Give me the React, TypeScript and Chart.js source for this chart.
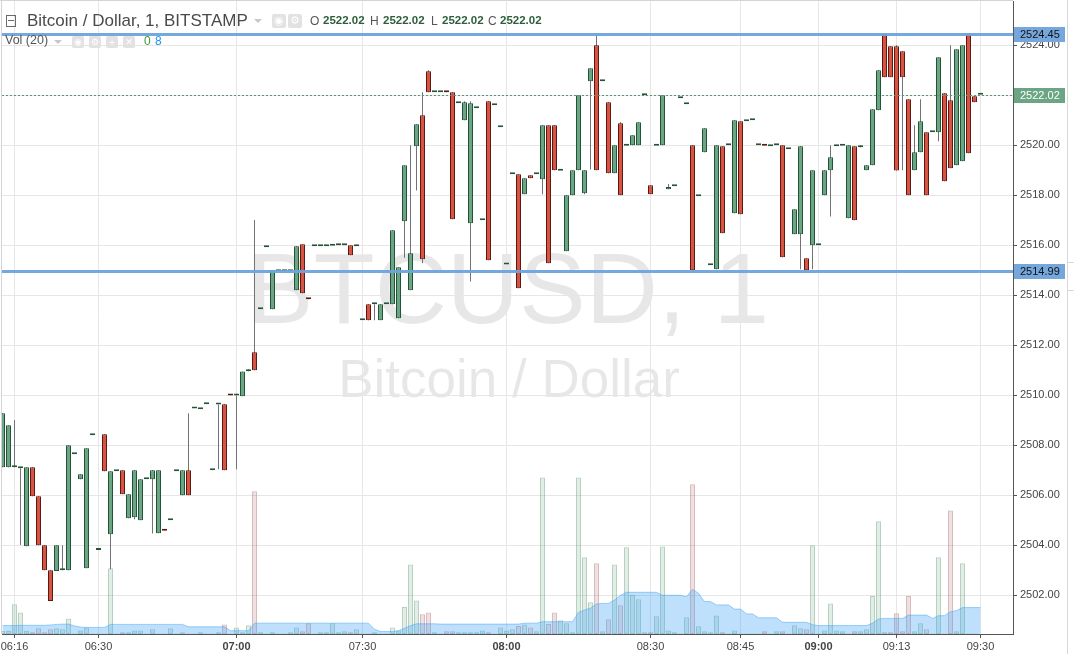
import React, { useEffect, useRef } from "react";
import { Chart, registerables } from "chart.js";

Chart.register(...registerables);

// index of the first bar in the arrays (bar 0 = 06:16)
const FIRST_BAR = -2;

const opens = [
  2507.12, 2507.12, 2507.12, 2507.08, 2503.96, 2507.12, 2505.96, 2504.0, 2503.0, 2502.97,
  2503.0, 2503.0, 2507.64, 2506.64, 2503.08, 2508.4, 2503.81, 2508.44, 2504.44, 2506.96,
  2507.0, 2505.08, 2505.12, 2505.0, 2506.64, 2506.64, 2504.48, 2504.59, 2505.0, 2506.96,
  2506.0, 2507.0, 2509.47, 2509.44, 2509.64, 2507.0, 2509.63, 2509.64, 2510.0, 2509.99,
  2509.96, 2510.96, 2511.72, 2513.44, 2515.92, 2513.44, 2514.96, 2514.96, 2514.96, 2514.2,
  2516.04, 2513.85, 2515.96, 2515.96, 2515.96, 2515.98, 2516.0, 2516.0, 2516.0, 2515.96,
  2513.0, 2513.64, 2513.64, 2513.0, 2513.64, 2513.64, 2513.08, 2516.96, 2514.2, 2519.96,
  2521.2, 2522.96, 2522.12, 2522.12, 2522.13, 2522.12, 2521.68, 2521.0, 2516.88, 2521.48,
  2517.0, 2521.76, 2521.6, 2520.72, 2515.23, 2518.84, 2518.84, 2518.04, 2518.8, 2518.84,
  2518.64, 2520.8, 2520.8, 2518.98, 2515.76, 2518.0, 2519.0, 2518.08, 2522.56, 2524.0,
  2522.56, 2521.72, 2518.88, 2520.88, 2519.98, 2520.0, 2520.0, 2522.0, 2518.4, 2519.98,
  2520.0, 2518.24, 2518.36, 2521.88, 2521.64, 2520.0, 2517.96, 2519.72, 2515.2, 2515.04,
  2519.96, 2520.0, 2517.28, 2520.96, 2520.96, 2521.0, 2520.0, 2519.99, 2519.96, 2520.0,
  2520.0, 2519.84, 2516.44, 2516.44, 2515.48, 2516.0, 2516.0, 2518.0, 2519.0, 2519.96,
  2519.98, 2517.08, 2519.96, 2519.92, 2519.0, 2519.2, 2521.4, 2524.44, 2523.96, 2523.96,
  2523.76, 2521.84, 2519.0, 2519.72, 2520.52, 2520.52, 2520.52, 2522.08, 2521.8, 2519.2,
  2519.36, 2524.44, 2521.96, 2522.02,
];

const highs = [
  2509.28, 2508.8, 2509.01, 2507.08, 2507.12, 2507.12, 2505.96, 2504.0, 2503.0, 2504.0,
  2504.0, 2508.0, 2507.64, 2506.84, 2507.88, 2508.4, 2503.81, 2508.44, 2506.96, 2506.96,
  2507.0, 2506.04, 2507.0, 2506.64, 2506.64, 2507.0, 2507.0, 2504.59, 2505.0, 2506.96,
  2507.0, 2509.28, 2509.47, 2509.44, 2509.64, 2507.0, 2509.63, 2509.64, 2510.0, 2509.99,
  2510.95, 2511.03, 2517.01, 2513.44, 2515.92, 2515.0, 2514.96, 2514.96, 2514.96, 2515.96,
  2516.04, 2513.85, 2515.96, 2515.96, 2515.96, 2515.98, 2516.0, 2516.0, 2516.0, 2515.96,
  2513.0, 2513.64, 2513.64, 2513.64, 2513.64, 2516.6, 2515.12, 2519.2, 2520.0, 2520.84,
  2522.12, 2523.0, 2522.12, 2522.12, 2522.13, 2522.12, 2521.68, 2521.76, 2521.76, 2521.48,
  2517.0, 2521.76, 2521.6, 2520.72, 2515.23, 2518.84, 2518.84, 2518.68, 2518.8, 2518.84,
  2520.8, 2520.8, 2520.8, 2518.98, 2518.0, 2519.0, 2522.0, 2519.0, 2523.08, 2524.45,
  2522.56, 2521.72, 2520.0, 2520.92, 2519.98, 2520.4, 2520.92, 2522.0, 2518.4, 2519.98,
  2522.0, 2518.45, 2518.36, 2521.88, 2521.64, 2520.0, 2517.96, 2520.68, 2515.2, 2520.0,
  2519.96, 2520.0, 2521.0, 2520.96, 2520.96, 2521.0, 2520.0, 2519.99, 2519.96, 2520.0,
  2520.0, 2519.84, 2517.44, 2519.96, 2515.48, 2519.0, 2516.0, 2519.0, 2520.0, 2519.96,
  2519.98, 2520.0, 2519.96, 2520.0, 2519.2, 2521.44, 2523.0, 2524.44, 2523.96, 2524.0,
  2523.76, 2521.84, 2520.8, 2521.84, 2520.52, 2520.52, 2523.52, 2522.08, 2524.0, 2523.84,
  2524.0, 2524.44, 2521.96, 2522.02,
];

const lows = [
  2507.12, 2507.12, 2507.12, 2504.01, 2503.96, 2505.96, 2504.0, 2503.0, 2501.77, 2502.97,
  2503.0, 2503.0, 2507.64, 2506.64, 2503.08, 2508.4, 2503.81, 2506.96, 2503.04, 2506.96,
  2506.04, 2505.08, 2505.04, 2505.0, 2506.64, 2504.47, 2504.48, 2504.58, 2505.0, 2506.96,
  2506.0, 2506.0, 2509.47, 2509.44, 2509.64, 2507.0, 2507.04, 2507.0, 2509.99, 2507.04,
  2509.96, 2510.96, 2511.0, 2513.44, 2515.92, 2513.44, 2514.96, 2514.96, 2514.96, 2514.2,
  2514.08, 2513.84, 2515.96, 2515.96, 2515.96, 2515.98, 2516.0, 2516.0, 2515.6, 2515.96,
  2513.0, 2513.0, 2513.0, 2513.0, 2513.64, 2513.64, 2513.08, 2515.5, 2514.2, 2518.19,
  2515.28, 2522.12, 2522.12, 2522.12, 2522.12, 2517.04, 2521.68, 2521.0, 2514.55, 2521.48,
  2517.0, 2515.4, 2521.6, 2520.72, 2515.23, 2518.84, 2514.28, 2518.04, 2518.68, 2518.84,
  2518.04, 2515.28, 2519.0, 2518.98, 2515.76, 2518.0, 2519.0, 2518.04, 2519.03, 2519.0,
  2522.56, 2518.88, 2518.88, 2518.0, 2519.98, 2520.0, 2520.0, 2522.0, 2518.04, 2519.98,
  2520.0, 2518.24, 2518.36, 2521.88, 2521.64, 2515.0, 2517.96, 2519.72, 2515.2, 2515.04,
  2516.48, 2520.0, 2517.28, 2517.24, 2520.96, 2521.0, 2520.0, 2519.98, 2519.96, 2520.0,
  2515.52, 2519.84, 2516.44, 2515.04, 2515.0, 2515.04, 2516.0, 2518.0, 2517.15, 2519.96,
  2519.98, 2517.08, 2517.0, 2519.92, 2519.0, 2519.2, 2521.4, 2522.72, 2522.72, 2518.99,
  2519.0, 2518.0, 2519.0, 2519.72, 2518.0, 2520.52, 2520.16, 2518.56, 2519.08, 2519.2,
  2519.36, 2519.68, 2521.72, 2522.02,
];

const closes = [
  2509.28, 2508.8, 2507.12, 2507.08, 2507.12, 2505.96, 2504.0, 2503.0, 2501.77, 2504.0,
  2503.0, 2508.0, 2507.64, 2506.84, 2507.88, 2508.4, 2503.81, 2506.96, 2506.96, 2506.96,
  2506.04, 2506.04, 2507.0, 2506.64, 2506.64, 2507.0, 2507.0, 2504.58, 2505.0, 2506.96,
  2507.0, 2506.0, 2509.47, 2509.44, 2509.64, 2507.0, 2509.63, 2507.0, 2509.99, 2509.99,
  2510.95, 2511.03, 2511.0, 2513.44, 2515.92, 2515.0, 2514.96, 2514.96, 2514.96, 2515.96,
  2514.08, 2513.84, 2515.96, 2515.96, 2515.96, 2515.98, 2516.0, 2516.0, 2515.6, 2515.96,
  2513.0, 2513.0, 2513.64, 2513.64, 2513.64, 2516.6, 2515.12, 2519.2, 2515.68, 2520.84,
  2515.44, 2522.12, 2522.12, 2522.12, 2522.12, 2517.04, 2521.68, 2521.72, 2521.68, 2521.48,
  2517.0, 2515.4, 2521.6, 2520.72, 2515.23, 2518.84, 2514.28, 2518.68, 2518.68, 2518.84,
  2520.8, 2515.28, 2519.0, 2518.98, 2518.0, 2519.0, 2522.0, 2519.0, 2523.08, 2519.0,
  2522.56, 2518.88, 2520.0, 2518.0, 2519.98, 2520.4, 2520.92, 2522.0, 2518.04, 2519.98,
  2522.0, 2518.33, 2518.36, 2521.88, 2521.64, 2515.0, 2517.96, 2520.68, 2515.2, 2520.0,
  2516.48, 2520.0, 2521.0, 2517.24, 2520.96, 2521.0, 2520.0, 2519.98, 2519.96, 2520.0,
  2515.52, 2519.84, 2517.44, 2519.96, 2515.0, 2519.0, 2516.0, 2519.0, 2519.52, 2519.96,
  2519.98, 2520.0, 2517.0, 2520.0, 2519.2, 2521.44, 2523.0, 2522.72, 2522.72, 2518.99,
  2522.72, 2518.0, 2519.72, 2520.96, 2518.0, 2520.52, 2523.52, 2518.56, 2519.08, 2523.84,
  2524.0, 2519.68, 2521.72, 2522.02,
];

const volumes = [
  1.0, 1.0, 9.9, 7.2, 1.1, 0.6, 1.9, 0.6, 1.6, 1.9,
  1.6, 5.2, 0.2, 1.2, 2.2, 0.2, 0.2, 0.2, 21.9, 0.2,
  0.6, 0.6, 1.2, 1.2, 0.2, 1.6, 0.2, 0.2, 1.9, 0.2,
  0.6, 0.2, 0.2, 0.6, 0.2, 0.2, 0.6, 3.2, 0.2, 2.2,
  0.6, 2.9, 47.6, 0.6, 0.2, 0.6, 0.2, 0.2, 0.6, 2.2,
  0.9, 3.6, 0.2, 0.6, 0.6, 3.6, 0.6, 0.9, 0.6, 1.6,
  0.2, 0.2, 0.6, 0.2, 0.2, 2.2, 1.2, 9.0, 23.2, 11.2,
  6.6, 7.2, 0.6, 0.2, 0.9, 0.9, 0.6, 0.6, 0.6, 0.6,
  1.2, 0.6, 0.2, 2.2, 1.2, 1.6, 2.7, 3.2, 2.2, 0.9,
  52.2, 3.3, 7.2, 4.6, 3.6, 0.6, 52.2, 25.6, 10.6, 23.6,
  0.9, 4.9, 23.2, 9.6, 28.9, 13.0, 11.6, 0.6, 0.6, 5.9,
  29.2, 1.2, 0.6, 0.2, 5.6, 49.9, 2.6, 0.9, 0.6, 6.2,
  0.6, 0.2, 1.2, 0.2, 0.2, 0.2, 0.2, 0.9, 0.2, 0.9,
  0.9, 0.2, 2.9, 1.9, 1.6, 29.6, 0.2, 1.2, 10.2, 1.2,
  0.9, 0.2, 0.9, 0.9, 1.6, 12.7, 37.6, 0.6, 0.6, 6.9,
  0.9, 12.7, 0.9, 3.6, 1.6, 0.2, 25.6, 0.2, 41.2, 0.9,
  23.6, 0.2, 0.2, 0,
];

const volumeMA = [
  2.8, 2.8, 2.8, 2.9, 2.9, 2.9, 2.9, 2.9, 3.0, 3.2,
  3.3, 3.3, 2.7, 2.3, 2.2, 2.2, 2.2, 2.2, 3.2, 3.2,
  3.2, 3.2, 3.2, 3.2, 3.2, 3.2, 3.2, 3.2, 3.2, 3.2,
  3.2, 2.4, 2.4, 2.4, 2.4, 2.4, 2.4, 2.4, 1.1, 1.1,
  1.1, 1.1, 3.6, 3.6, 3.6, 3.6, 3.6, 3.6, 3.6, 3.6,
  3.6, 3.6, 3.6, 3.6, 3.6, 3.6, 3.6, 3.6, 3.6, 3.6,
  3.6, 3.6, 1.6, 0.8, 0.8, 0.8, 1.1, 1.9, 2.8, 3.4,
  3.4, 3.4, 3.4, 3.3, 3.3, 3.3, 3.3, 3.3, 3.3, 3.3,
  3.3, 3.3, 3.3, 3.3, 3.3, 3.3, 3.3, 3.6, 3.6, 3.6,
  4.1, 4.1, 4.1, 4.1, 4.1, 4.1, 7.2, 8.0, 8.6, 10.0,
  10.2, 10.2, 11.3, 12.9, 13.9, 13.9, 13.9, 13.9, 13.9, 13.9,
  12.9, 12.9, 12.9, 12.9, 12.4, 14.9, 13.6, 10.8, 10.8, 9.7,
  9.7, 9.7, 8.3, 8.3, 6.7, 6.7, 5.4, 5.4, 5.4, 5.4,
  3.9, 3.9, 3.9, 3.9, 3.9, 3.1, 2.8, 2.8, 2.8, 2.8,
  2.8, 2.8, 2.8, 2.8, 2.8, 3.6, 5.0, 5.2, 5.2, 5.2,
  5.2, 6.3, 6.3, 6.3, 6.3, 5.2, 6.1, 6.1, 7.4, 7.8,
  8.8, 8.8, 8.8, 8.8,
];

const timeTickBars = [0, 14, 37, 58, 82, 106, 121, 134, 147, 161];
const timeTickLabels = ["06:16", "06:30", "07:00", "07:30", "08:00", "08:30", "08:45", "09:00", "09:13", "09:30"];
const boldTimeLabels = ["07:00", "08:00", "09:00"];
const priceTicks = [2502, 2504, 2506, 2508, 2510, 2512, 2514, 2516, 2518, 2520, 2522, 2524];

const resistanceLevel = 2524.45;
const supportLevel = 2514.99;
const lastPrice = 2522.02;

const PRICE_MIN = 2500.452;
const PRICE_MAX = 2525.772;
const BAR_MIN = -2.0833;
const BAR_MAX = 166.4167;
const VOLUME_AXIS_MAX = 211;

const UP = "#6ba583";
const UP_BORDER = "#225437";
const DOWN = "#d75442";
const DOWN_BORDER = "#5b1a13";
const FONT = "'Liberation Sans', Arial, sans-serif";

export default function App() {
  const ref = useRef<HTMLCanvasElement | null>(null);

  useEffect(() => {
    const canvas = ref.current;
    if (!canvas) return;
    const bars = opens.map((_, k) => k + FIRST_BAR);
    const up = opens.map((o, k) => closes[k] >= o);

    const overlay = {
      id: "tvOverlay",
      beforeDraw(chart: any) {
        const ctx = chart.ctx;
        ctx.save();
        ctx.fillStyle = "rgba(0,0,0,0.095)";
        ctx.textAlign = "center";
        ctx.textBaseline = "alphabetic";
        ctx.font = `100px ${FONT}`;
        ctx.fillText("BTCUSD, 1", 508, 323);
        ctx.font = `53px ${FONT}`;
        ctx.fillText("Bitcoin / Dollar", 509, 397);
        ctx.restore();
      },
      afterDatasetsDraw(chart: any) {
        const ctx = chart.ctx;
        const a = chart.chartArea;
        const y = chart.scales.y;
        ctx.save();
        ctx.beginPath();
        ctx.rect(a.left, a.top, a.right - a.left, a.bottom - a.top);
        ctx.clip();
        const yl = Math.round(y.getPixelForValue(lastPrice)) + 0.5;
        ctx.setLineDash([2, 2]);
        ctx.strokeStyle = "#5f9470";
        ctx.lineWidth = 1;
        ctx.beginPath();
        ctx.moveTo(a.left, yl);
        ctx.lineTo(a.right, yl);
        ctx.stroke();
        ctx.setLineDash([]);
        ctx.strokeStyle = "rgba(110,163,220,0.95)";
        ctx.lineWidth = 3;
        [resistanceLevel, supportLevel].forEach((v) => {
          const py = Math.round(y.getPixelForValue(v)) + 0.5;
          ctx.beginPath();
          ctx.moveTo(a.left, py);
          ctx.lineTo(a.right, py);
          ctx.stroke();
        });
        ctx.restore();
      },
      afterDraw(chart: any) {
        const ctx = chart.ctx;
        const a = chart.chartArea;
        const y = chart.scales.y;
        ctx.save();
        const boxes: [number, string, string][] = [
          [resistanceLevel, "#75a7dd", "#111"],
          [lastPrice, "#6ba583", "#fff"],
          [supportLevel, "#75a7dd", "#111"],
        ];
        ctx.font = `11px ${FONT}`;
        ctx.textAlign = "left";
        ctx.textBaseline = "middle";
        boxes.forEach(([v, bg, fg]) => {
          const py = Math.round(y.getPixelForValue(v));
          ctx.fillStyle = bg;
          ctx.fillRect(a.right + 1, py - 7, 51, 15);
          ctx.fillStyle = fg;
          ctx.fillText(v.toFixed(2), a.right + 7, py + 1);
        });
        ctx.strokeStyle = "#d3d3d8";
        ctx.lineWidth = 1;
        ctx.beginPath();
        ctx.moveTo(0, 0.5);
        ctx.lineTo(a.right, 0.5);
        ctx.moveTo(1.5, 0);
        ctx.lineTo(1.5, a.bottom);
        ctx.stroke();
        ctx.restore();
      },
    };

    const chart = new Chart(canvas, {
      type: "bar",
      data: {
        datasets: [
          {
            type: "bar",
            label: "Volume",
            yAxisID: "yv",
            data: volumes.map((v, k) => ({ x: bars[k], y: v })),
            backgroundColor: up.map((u) => (u ? "rgba(107,165,131,0.2)" : "rgba(180,120,120,0.22)")),
            borderColor: up.map((u) => (u ? "rgba(107,165,131,0.5)" : "rgba(180,120,120,0.5)")),
            borderWidth: 1,
            borderSkipped: false,
            barThickness: 5,
            inflateAmount: 0,
            grouped: false,
            order: 5,
          },
          {
            type: "line",
            label: "Vol MA (20)",
            yAxisID: "yv",
            data: volumeMA.map((v, k) => ({ x: bars[k], y: v })),
            borderColor: "rgba(66,165,245,0.5)",
            backgroundColor: "rgba(66,165,245,0.34)",
            borderWidth: 1,
            pointRadius: 0,
            fill: "origin",
            tension: 0,
            order: 4,
          },
          {
            type: "bar",
            label: "Wick",
            yAxisID: "y",
            data: lows.map((l, k) => ({ x: bars[k], y: [l, highs[k]] })),
            backgroundColor: "#737375",
            borderWidth: 0,
            barThickness: 1,
            inflateAmount: 0,
            grouped: false,
            order: 3,
          },
          {
            type: "bar",
            label: "BTCUSD",
            yAxisID: "y",
            data: opens.map((o, k) => ({ x: bars[k], y: [o, closes[k]] })),
            backgroundColor: up.map((u) => (u ? UP : DOWN)),
            borderColor: up.map((u) => (u ? UP_BORDER : DOWN_BORDER)),
            borderWidth: 1,
            borderSkipped: false,
            barThickness: 5,
            minBarLength: 2,
            inflateAmount: 0,
            grouped: false,
            order: 2,
          },
        ] as any,
      },
      options: {
        responsive: false,
        animation: false,
        devicePixelRatio: 1,
        events: [],
        layout: { padding: { left: 2, top: 1, right: 0, bottom: 0 } },
        plugins: { legend: { display: false }, tooltip: { enabled: false } },
        scales: {
          x: {
            type: "linear",
            position: "bottom",
            min: BAR_MIN,
            max: BAR_MAX,
            offset: false,
            grid: { color: "#e6e6e6", tickColor: "#555", tickLength: 4, drawTicks: true, offset: false },
            border: { display: true, color: "#555", width: 1 },
            ticks: {
              autoSkip: false,
              maxRotation: 0,
              padding: 2,
              color: "#444",
              font: (c: any) => ({
                family: FONT,
                size: 11,
                weight: boldTimeLabels.includes(timeTickLabels[c.index]) ? "bold" : "normal",
              }),
              callback: (_v: any, i: number) => timeTickLabels[i] ?? "",
            },
            afterBuildTicks: (s: any) => {
              s.ticks = timeTickBars.map((v) => ({ value: v }));
            },
            afterFit: (s: any) => {
              s.height = 20;
              s.paddingLeft = 0;
              s.paddingRight = 0;
            },
          },
          y: {
            type: "linear",
            position: "right",
            min: PRICE_MIN,
            max: PRICE_MAX,
            grid: { color: "#e6e6e6", tickColor: "#555", tickLength: 4, drawTicks: true },
            border: { display: true, color: "#555", width: 1 },
            ticks: {
              padding: 3,
              color: "#444",
              font: { family: FONT, size: 11 },
              callback: (v: any) => Number(v).toFixed(2),
            },
            afterBuildTicks: (s: any) => {
              s.ticks = priceTicks.map((v) => ({ value: v }));
            },
            afterFit: (s: any) => {
              s.width = 61;
              s.paddingTop = 0;
              s.paddingBottom = 0;
            },
          },
          yv: { type: "linear", display: false, min: 0, max: VOLUME_AXIS_MAX },
        },
      } as any,
      plugins: [overlay],
    });
    return () => chart.destroy();
  }, []);

  const iconBox = (left: number, top: number, size: number, glyph: string) => (
    <div
      style={{
        position: "absolute",
        left,
        top,
        width: size,
        height: size,
        background: "#e2e2e2",
        borderRadius: 2,
        color: "#fff",
        fontSize: size - 3,
        lineHeight: `${size}px`,
        textAlign: "center",
        fontFamily: "'DejaVu Sans', sans-serif",
      }}
    >
      {glyph}
    </div>
  );

  const txt = (left: number, top: number, size: number, color: string, s: string, bold = false) => (
    <span
      style={{
        position: "absolute",
        left,
        top,
        fontSize: size,
        lineHeight: `${size}px`,
        color,
        fontWeight: bold ? "bold" : "normal",
        whiteSpace: "nowrap",
      }}
    >
      {s}
    </span>
  );

  return (
    <div style={{ position: "absolute", left: 0, top: 0, width: 1074, height: 654, fontFamily: FONT, background: "#fff", overflow: "hidden" }}>
      <canvas ref={ref} width={1074} height={654} style={{ position: "absolute", left: 0, top: 0 }} />
      {/* collapse box */}
      <div style={{ position: "absolute", left: 6, top: 15, width: 8, height: 10, border: "1px solid #6a6a6a" }}>
        <div style={{ position: "absolute", left: 1, top: 4, width: 6, height: 1, background: "#6a6a6a" }} />
      </div>
      {txt(27, 12, 17, "#4a4a4a", "Bitcoin / Dollar, 1, BITSTAMP")}
      <div style={{ position: "absolute", left: 254, top: 19, width: 0, height: 0, borderLeft: "4px solid transparent", borderRight: "4px solid transparent", borderTop: "4px solid #c8c8c8" }} />
      {iconBox(272, 14, 14, "◉")}
      {iconBox(288, 14, 14, "⚙")}
      {txt(310, 15, 12, "#555", "O")}
      {txt(323, 15, 11.5, "#2c5e3c", "2522.02", true)}
      {txt(370, 15, 12, "#555", "H")}
      {txt(383, 15, 11.5, "#2c5e3c", "2522.02", true)}
      {txt(431, 15, 12, "#555", "L")}
      {txt(442, 15, 11.5, "#2c5e3c", "2522.02", true)}
      {txt(488, 15, 12, "#555", "C")}
      {txt(500, 15, 11.5, "#2c5e3c", "2522.02", true)}
      {txt(5, 34, 12.5, "#555", "Vol (20)")}
      <div style={{ position: "absolute", left: 54, top: 40, width: 0, height: 0, borderLeft: "4px solid transparent", borderRight: "4px solid transparent", borderTop: "4px solid #c8c8c8" }} />
      {iconBox(72, 36, 12, "◉")}
      {iconBox(89, 36, 12, "⚙")}
      {iconBox(106, 36, 12, "+")}
      {iconBox(123, 36, 12, "✕")}
      {txt(144, 35, 12, "#3a9a3a", "0")}
      {txt(155, 35, 12, "#2196f3", "8")}
      {/* right side strip */}
      <div style={{ position: "absolute", left: 1067, top: 0, width: 1, height: 654, background: "#d8d8d8" }} />
      <div style={{ position: "absolute", left: 1067, top: 262, width: 6, height: 27, border: "1px solid #d8d8d8", background: "#fff" }} />
    </div>
  );
}
